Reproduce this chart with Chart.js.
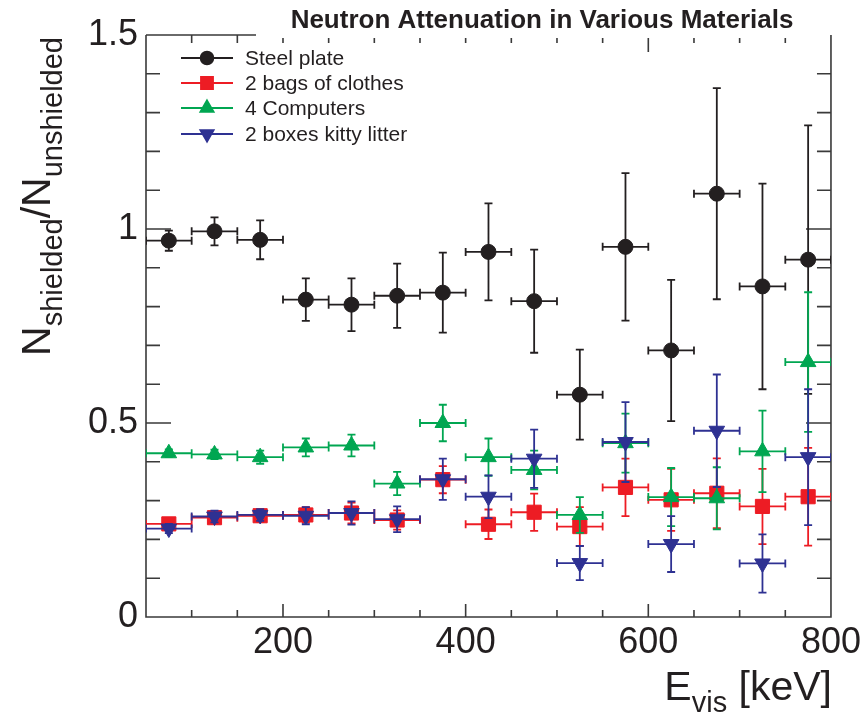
<!DOCTYPE html>
<html>
<head>
<meta charset="utf-8">
<script src="https://cdn.jsdelivr.net/npm/chart.js@4/dist/chart.umd.min.js"></script>
<style>
  html, body { margin: 0; padding: 0; background: #ffffff; }
  canvas { display: block; }
</style>
</head>
<body>
<canvas id="c" width="865" height="717"></canvas>
<script>
// ---------------- DATA ----------------
const binCenters = [75, 125, 175, 225, 275, 325, 375, 425, 475, 525, 575, 625, 675, 725, 775];
const binHalfWidth = 25;

const steelPlate    = [0.970, 0.994, 0.972, 0.818, 0.805, 0.828, 0.836, 0.941, 0.814, 0.573, 0.954, 0.687, 1.091, 0.852, 0.921];
const steelPlateErr = [0.026, 0.036, 0.050, 0.055, 0.068, 0.083, 0.103, 0.125, 0.133, 0.116, 0.190, 0.182, 0.272, 0.265, 0.346];

const bagsOfClothes    = [0.240, 0.256, 0.261, 0.263, 0.268, 0.250, 0.354, 0.239, 0.270, 0.233, 0.334, 0.302, 0.319, 0.285, 0.310];
const bagsOfClothesErr = [0.012, 0.015, 0.016, 0.020, 0.027, 0.025, 0.035, 0.038, 0.048, 0.050, 0.074, 0.080, 0.090, 0.097, 0.126];

const computers    = [0.422, 0.419, 0.412, 0.437, 0.442, 0.344, 0.500, 0.412, 0.379, 0.263, 0.448, 0.309, 0.306, 0.427, 0.657];
const computersErr = [0.010, 0.012, 0.017, 0.023, 0.028, 0.030, 0.047, 0.048, 0.050, 0.046, 0.076, 0.075, 0.080, 0.105, 0.180];

const kittyLitter    = [0.228, 0.259, 0.263, 0.261, 0.268, 0.252, 0.355, 0.310, 0.408, 0.139, 0.451, 0.188, 0.480, 0.138, 0.412];
const kittyLitterErr = [0.012, 0.015, 0.015, 0.022, 0.030, 0.033, 0.053, 0.055, 0.075, 0.044, 0.103, 0.072, 0.145, 0.075, 0.175];

const seriesNames = ['Steel plate', '2 bags of clothes', '4 Computers', '2 boxes kitty litter'];

const xTickValues = [200, 400, 600, 800];
const xTickLabels = ['200', '400', '600', '800'];
const yTickValues = [0, 0.5, 1, 1.5];
const yTickLabels = ['0', '0.5', '1', '1.5'];

const chartTitle = 'Neutron Attenuation in Various Materials';

// ---------------- STYLE ----------------
const FONT = '"Liberation Sans", Arial, Helvetica, sans-serif';
const AXIS_COLOR = '#3a3a3a';
const TEXT_COLOR = '#231f20';
const COLORS = ['#231f20', '#ed1c24', '#00a651', '#2e3192'];

function pts(vals) { return vals.map((v, i) => ({ x: binCenters[i], y: v })); }

const styles = [
  { pointStyle: 'circle',   rotation: 0,   radius: 7.5 },
  { pointStyle: 'rect',     rotation: 0,   radius: 10 },
  { pointStyle: 'triangle', rotation: 0,   radius: 9 },
  { pointStyle: 'triangle', rotation: 180, radius: 9 }
];
const values = [steelPlate, bagsOfClothes, computers, kittyLitter];
const errors = [steelPlateErr, bagsOfClothesErr, computersErr, kittyLitterErr];

const datasets = values.map((vals, k) => ({
  label: seriesNames[k],
  data: pts(vals),
  yErr: errors[k],
  xErr: binCenters.map(() => binHalfWidth),
  showLine: false,
  borderColor: COLORS[k],
  backgroundColor: COLORS[k],
  pointBackgroundColor: COLORS[k],
  pointBorderColor: COLORS[k],
  pointBorderWidth: 1,
  pointStyle: styles[k].pointStyle,
  pointRotation: styles[k].rotation,
  pointRadius: styles[k].radius,
  pointHoverRadius: styles[k].radius,
  order: 4 - k
}));

// ---------------- PLUGINS ----------------
const TITLE_BOX_LEFT = 256;

const frameAndTicks = {
  id: 'frameAndTicks',
  beforeDatasetsDraw(chart) {
    const { ctx, chartArea: a, scales: { x, y } } = chart;
    ctx.save();
    ctx.strokeStyle = AXIS_COLOR;
    ctx.lineWidth = 1.6;
    ctx.beginPath();
    ctx.moveTo(a.left, a.top); ctx.lineTo(a.left, a.bottom);
    ctx.lineTo(a.right, a.bottom); ctx.lineTo(a.right, a.top);
    ctx.moveTo(a.left, a.top); ctx.lineTo(TITLE_BOX_LEFT, a.top);
    ctx.stroke();

    ctx.beginPath();
    for (let k = 1; k < 15; k++) {
      const v = x.min + k * 50;
      const px = x.getPixelForValue(v);
      const major = xTickValues.includes(v);
      ctx.moveTo(px, a.bottom); ctx.lineTo(px, a.bottom - (major ? 13 : 7));
      if (px < TITLE_BOX_LEFT) { ctx.moveTo(px, a.top); ctx.lineTo(px, a.top + 8); }
      else { ctx.moveTo(px, a.top + 3); ctx.lineTo(px, a.top + (v === 600 ? 17 : 8)); }
    }
    for (let k = 1; k < 15; k++) {
      const py = y.getPixelForValue(k / 10);
      const len = (k % 5 === 0) ? 25 : 14;
      ctx.moveTo(a.left, py); ctx.lineTo(a.left + len, py);
      ctx.moveTo(a.right, py); ctx.lineTo(a.right - len, py);
    }
    ctx.stroke();
    ctx.restore();
  }
};

const errorBars = {
  id: 'errorBars',
  beforeDatasetDraw(chart, args) {
    const ds = chart.data.datasets[args.index];
    const { ctx, chartArea: a, scales: { x, y } } = chart;
    ctx.save();
    ctx.beginPath();
    ctx.rect(a.left, a.top, a.right - a.left, a.bottom - a.top);
    ctx.clip();
    ctx.strokeStyle = ds.borderColor;
    ctx.lineWidth = 1.8;
    const cap = 4;
    ctx.beginPath();
    ds.data.forEach((p, i) => {
      const px = x.getPixelForValue(p.x);
      const py = y.getPixelForValue(p.y);
      const xl = x.getPixelForValue(p.x - ds.xErr[i]);
      const xr = x.getPixelForValue(p.x + ds.xErr[i]);
      const yt = y.getPixelForValue(p.y + ds.yErr[i]);
      const yb = y.getPixelForValue(p.y - ds.yErr[i]);
      ctx.moveTo(xl, py); ctx.lineTo(xr, py);
      ctx.moveTo(xl, py - cap); ctx.lineTo(xl, py + cap);
      ctx.moveTo(xr, py - cap); ctx.lineTo(xr, py + cap);
      ctx.moveTo(px, yt); ctx.lineTo(px, yb);
      ctx.moveTo(px - cap, yt); ctx.lineTo(px + cap, yt);
      ctx.moveTo(px - cap, yb); ctx.lineTo(px + cap, yb);
    });
    ctx.stroke();
    ctx.restore();
  }
};

function drawRich(ctx, parts, big, small, subShift) {
  let xpos = 0;
  parts.forEach(([txt, sub]) => {
    ctx.font = (sub ? small : big) + 'px ' + FONT;
    ctx.fillText(txt, xpos, sub ? subShift : 0);
    xpos += ctx.measureText(txt).width;
  });
  return xpos;
}
function measureRich(ctx, parts, big, small) {
  let w = 0;
  parts.forEach(([txt, sub]) => { ctx.font = (sub ? small : big) + 'px ' + FONT; w += ctx.measureText(txt).width; });
  return w;
}

const annotations = {
  id: 'annotations',
  afterDraw(chart) {
    const { ctx, chartArea: a } = chart;
    ctx.save();
    ctx.fillStyle = TEXT_COLOR;
    ctx.textAlign = 'left';
    ctx.textBaseline = 'alphabetic';

    // Title
    ctx.font = 'bold 26px ' + FONT;
    ctx.textAlign = 'center';
    ctx.fillText(chartTitle, 542, 28);
    ctx.textAlign = 'left';

    // X axis title
    const big = 41, small = 29, shift = 12;
    const xParts = [['E', false], ['vis', true], [' [keV]', false]];
    const wx = measureRich(ctx, xParts, big, small);
    ctx.save();
    ctx.translate(a.right + 1 - wx, 700);
    drawRich(ctx, xParts, big, small, shift);
    ctx.restore();

    // Y axis title
    const yParts = [['N', false], ['shielded', true], ['/', false], ['N', false], ['unshielded', true]];
    const wy = measureRich(ctx, yParts, big, small);
    ctx.save();
    ctx.translate(50, a.top + 2 + wy);
    ctx.rotate(-Math.PI / 2);
    drawRich(ctx, yParts, big, small, shift);
    ctx.restore();

    // Legend
    const rows = [58, 83, 108, 134];
    ctx.font = '21px ' + FONT;
    ctx.textBaseline = 'middle';
    chart.data.datasets.forEach((ds, k) => {
      const ry = rows[k];
      ctx.strokeStyle = ds.borderColor;
      ctx.lineWidth = 1.8;
      ctx.beginPath(); ctx.moveTo(181, ry); ctx.lineTo(233, ry); ctx.stroke();
      ctx.fillStyle = ds.borderColor;
      Chart.helpers.drawPoint(ctx, {
        pointStyle: ds.pointStyle, rotation: ds.pointRotation,
        radius: ds.pointRadius * 0.85, borderWidth: 1
      }, 207, ry);
      ctx.fillStyle = TEXT_COLOR;
      ctx.fillText(ds.label, 245, ry + 1);
    });
    ctx.restore();
  }
};

// ---------------- CHART ----------------
new Chart(document.getElementById('c'), {
  type: 'scatter',
  data: { datasets },
  options: {
    responsive: false,
    animation: false,
    devicePixelRatio: 1,
    layout: { padding: { top: 35, right: 33, left: 0, bottom: 0 } },
    plugins: { legend: { display: false }, tooltip: { enabled: false }, title: { display: false } },
    scales: {
      x: {
        type: 'linear', min: 50, max: 800,
        grid: { display: false, drawTicks: false },
        border: { display: false },
        afterBuildTicks: s => { s.ticks = xTickValues.map(v => ({ value: v })); },
        afterFit: s => { s.height = 100; },
        ticks: {
          font: { family: FONT, size: 36 }, color: TEXT_COLOR, padding: 4,
          maxRotation: 0, autoSkip: false,
          callback: (v, i) => xTickLabels[i]
        }
      },
      y: {
        type: 'linear', min: 0, max: 1.5,
        grid: { display: false, drawTicks: false },
        border: { display: false },
        afterBuildTicks: s => { s.ticks = yTickValues.map(v => ({ value: v })); },
        afterFit: s => { s.width = 146; },
        ticks: {
          font: { family: FONT, size: 36 }, color: TEXT_COLOR, padding: 8,
          autoSkip: false,
          callback: (v, i) => yTickLabels[i]
        }
      }
    }
  },
  plugins: [frameAndTicks, errorBars, annotations]
});
</script>
</body>
</html>
